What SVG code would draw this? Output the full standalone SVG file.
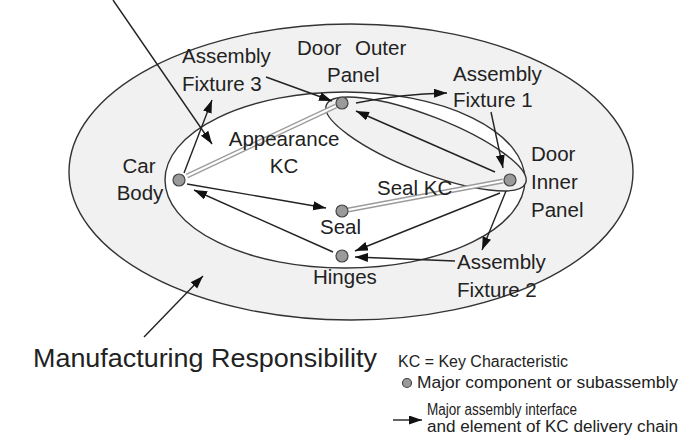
<svg xmlns="http://www.w3.org/2000/svg" width="680" height="444" viewBox="0 0 680 444">
<style>
text{font-family:"Liberation Sans",Arial,Helvetica,sans-serif;fill:#222}
.lbl{font-size:20.5px}
.leg{font-size:16px}
.node{fill:#9a9a9a;stroke:#444;stroke-width:1.2}
.ln{fill:none;stroke:#222;stroke-width:1.4}
.kco{fill:none;stroke:#9c9c9c;stroke-width:5}
.kci{fill:none;stroke:#fff;stroke-width:2.2}
.reg{stroke:#333;stroke-width:1.4}
</style>
<defs>
<marker id="ah" markerUnits="userSpaceOnUse" markerWidth="14" markerHeight="10" refX="13" refY="4.5" orient="auto">
<path d="M0,0 L13,4.5 L0,9 z" fill="#111"/>
</marker>
</defs>
<rect width="680" height="444" fill="#fff"/>
<g id="regions">
<ellipse id="manufacturing-region" class="reg" cx="351" cy="172" rx="282" ry="148" fill="#f1f1f1"/>
<ellipse id="design-region" class="reg" cx="345" cy="180" rx="180" ry="88" fill="#fff"/>
<ellipse id="door-region" class="reg" cx="426" cy="144" rx="107" ry="28" transform="rotate(21.4 426 144)" fill="#f1f1f1"/>
</g>
<g id="connectors">
<path class="kco" d="M187,176 L336,106"/>
<path class="kci" d="M187,176 L336,106"/>
<path class="kco" d="M348,210 L503,181"/>
<path class="kci" d="M348,210 L503,181"/>
<path class="ln" d="M266,77 L332,101" marker-end="url(#ah)"/>
<path class="ln" d="M184,173 L212,100" marker-end="url(#ah)"/>
<path class="ln" d="M113,0 L212,144" marker-end="url(#ah)"/>
<path class="ln" d="M356,103 Q400,94 447,93" marker-end="url(#ah)"/>
<path class="ln" d="M491,112 L503,168" marker-end="url(#ah)"/>
<path class="ln" d="M495,172 L356,111" marker-end="url(#ah)"/>
<path class="ln" d="M506,191 L482,250" marker-end="url(#ah)"/>
<path class="ln" d="M500,193 L355,251" marker-end="url(#ah)"/>
<path class="ln" d="M187,184 L326,208" marker-end="url(#ah)"/>
<path class="ln" d="M333,252 L194,190" marker-end="url(#ah)"/>
<path class="ln" d="M455,261 L355,257" marker-end="url(#ah)"/>
<path class="ln" d="M144,337 L203,276" marker-end="url(#ah)"/>
</g>
<g id="door-outer-panel"><circle class="node" cx="342" cy="103" r="6"/><text class="lbl" x="297" y="55">Door<tspan x="355">Outer</tspan></text><text class="lbl" x="327" y="82">Panel</text></g>
<g id="door-inner-panel"><circle class="node" cx="510" cy="180" r="6"/><text class="lbl" x="531" y="161">Door</text><text class="lbl" x="531" y="189">Inner</text><text class="lbl" x="531" y="217">Panel</text></g>
<g id="car-body"><circle class="node" cx="179" cy="180" r="6"/><text class="lbl" x="139" y="173" text-anchor="middle">Car</text><text class="lbl" x="140" y="200" text-anchor="middle">Body</text></g>
<g id="seal"><circle class="node" cx="342" cy="211" r="6"/><text class="lbl" x="320" y="234">Seal</text></g>
<g id="hinges"><circle class="node" cx="342" cy="256" r="6"/><text class="lbl" x="313" y="284">Hinges</text></g>
<g id="assembly-fixture-3"><text class="lbl" x="182" y="63">Assembly</text><text class="lbl" x="182" y="91">Fixture 3</text></g>
<g id="assembly-fixture-1"><text class="lbl" x="453" y="81">Assembly</text><text class="lbl" x="453" y="107">Fixture 1</text></g>
<g id="assembly-fixture-2"><text class="lbl" x="457" y="269">Assembly</text><text class="lbl" x="457" y="297">Fixture 2</text></g>
<g id="appearance-kc"><text class="lbl" x="284" y="146" text-anchor="middle">Appearance</text><text class="lbl" x="284" y="173" text-anchor="middle">KC</text></g>
<g id="seal-kc"><text class="lbl" x="377" y="195">Seal KC</text></g>
<g id="manufacturing-responsibility"><text x="33" y="367" style="font-size:26px" textLength="344" lengthAdjust="spacingAndGlyphs">Manufacturing Responsibility</text></g>
<g id="legend">
<text class="leg" x="398" y="367" textLength="170" lengthAdjust="spacingAndGlyphs">KC = Key Characteristic</text>
<circle class="node" cx="407" cy="383" r="4.5"/>
<text class="leg" x="417" y="388" textLength="261" lengthAdjust="spacingAndGlyphs">Major component or subassembly</text>
<path class="ln" d="M393,420 L422,420" marker-end="url(#ah)"/>
<text class="leg" x="427" y="415" textLength="150" lengthAdjust="spacingAndGlyphs">Major assembly interface</text>
<text class="leg" x="427" y="432" textLength="251" lengthAdjust="spacingAndGlyphs">and element of KC delivery chain</text>
</g>
</svg>
